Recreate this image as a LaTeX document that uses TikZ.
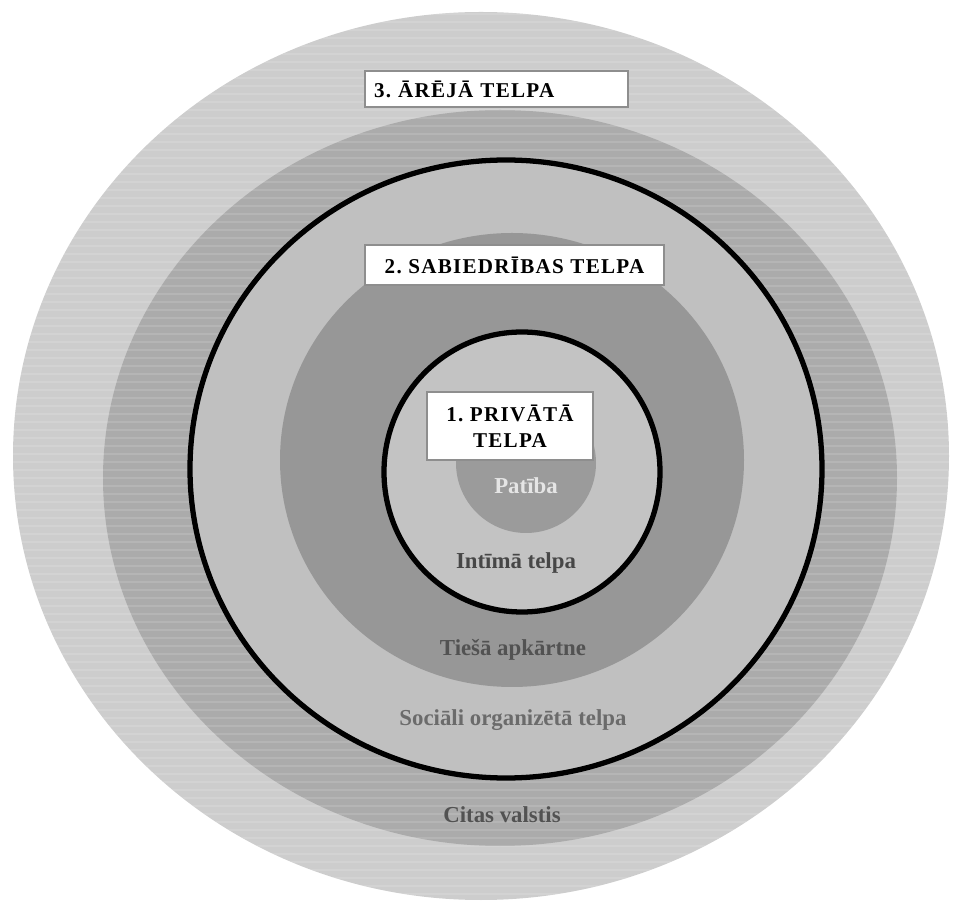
\documentclass[tikz,border=0pt]{standalone}
\usepackage{fontspec}
\setmainfont{Liberation Serif}
\frenchspacing
\definecolor{outerband}{HTML}{CDCDCD}
\definecolor{statesband}{HTML}{ABABAB}
\definecolor{socialband}{HTML}{C0C0C0}
\definecolor{nearband}{HTML}{979797}
\definecolor{intimband}{HTML}{C3C3C3}
\definecolor{selfband}{HTML}{9B9B9B}
\definecolor{frame}{HTML}{8E8E8E}
\begin{document}
\begin{tikzpicture}[x=0.02cm,y=-0.02cm,
  space box/.style={draw=frame,line width=1.4pt,fill=white,
    font=\bfseries\fontsize{12}{15}\selectfont\addfontfeature{LetterSpace=6},
    inner xsep=0.18cm,inner ysep=0pt},
  zone label/.style={font=\bfseries\fontsize{13}{15}\selectfont,text=black!68},
  border line/.style={draw=black,line width=3pt}]
  \useasboundingbox (0,0) rectangle (954,908);
  % rings, from the outside in
  \fill[outerband] (481,456) ellipse [x radius=468,y radius=444];
  \fill[statesband] (500,478) ellipse [x radius=397,y radius=368];
  \begin{scope}
    \clip (481,456) ellipse [x radius=468,y radius=444];
    \foreach \y in {14,22,...,900}
      \draw[white,opacity=0.12,line width=1.2pt] (0,\y) -- (954,\y);
  \end{scope}
  \fill[socialband,border line] (506,469) ellipse [x radius=316,y radius=309];
  \fill[nearband] (512,460) ellipse [x radius=232,y radius=227];
  \fill[intimband,border line] (522,472) ellipse [x radius=138,y radius=140];
  \fill[selfband] (526,463) ellipse [x radius=70,y radius=70];
  % boxes
  \node[space box,text width=4.9cm,minimum height=0.72cm,align=left] (outer box) at (496.5,89) {3. ĀRĒJĀ TELPA};
  \node[space box,minimum width=5.98cm,minimum height=0.8cm] (society box) at (514.5,265) {2. SABIEDRĪBAS TELPA};
  \node[space box,minimum width=3.32cm,minimum height=1.36cm,align=center] (private box) at (510,426) {1. PRIVĀTĀ\\TELPA};
  % zone names
  \node[zone label,text=white!90!black] (self) at (526,486) {Patība};
  \node[zone label,text=black!72] (intim) at (516,563) {Intīmā telpa};
  \node[zone label] (near) at (513,650) {Tiešā apkārtne};
  \node[zone label,text=black!58] (social) at (513,720) {Sociāli organizētā telpa};
  \node[zone label] (states) at (502,815) {Citas valstis};
\end{tikzpicture}
\end{document}
